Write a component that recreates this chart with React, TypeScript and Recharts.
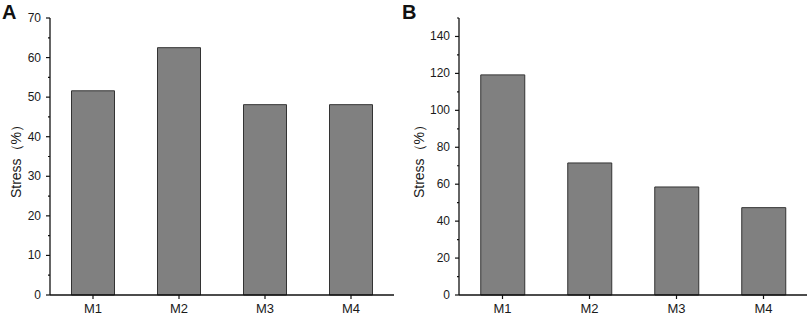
import React from 'react';
import { BarChart, Bar, XAxis, YAxis } from 'recharts';

const categories = ['M1', 'M2', 'M3', 'M4'];
const stressA = [51.6, 62.5, 48.1, 48.1];
const stressB = [119.2, 71.5, 58.5, 47.3];
const ticksA = [0, 5, 10, 15, 20, 25, 30, 35, 40, 45, 50, 55, 60, 65, 70];
const ticksB = [0, 10, 20, 30, 40, 50, 60, 70, 80, 90, 100, 110, 120, 130, 140, 150];
const majorStepA = 10;
const majorStepB = 20;
const panelLabels = ['A', 'B'];
const yLabel = 'Stress（%）';

const dataA = categories.map((c, i) => ({ name: c, value: stressA[i] }));
const dataB = categories.map((c, i) => ({ name: c, value: stressB[i] }));

const FONT = '"Liberation Sans", Arial, sans-serif';
const AXIS = '#111';
const TEXT = '#1a1a1a';

function makeYTick(step: number) {
  return (props: any) => {
    const { x, y, payload } = props;
    const major = payload.value % step === 0;
    const len = major ? 4 : 2;
    return (
      <g>
        <line x1={x - len} x2={x} y1={y} y2={y} stroke={AXIS} strokeWidth={1.2} />
        {major && (
          <text
            x={x - 9}
            y={y}
            textAnchor="end"
            dominantBaseline="central"
            fontSize={12}
            fontFamily={FONT}
            fill={TEXT}
          >
            {payload.value}
          </text>
        )}
      </g>
    );
  };
}

function Panel(props: {
  data: any[];
  width: number;
  yWidth: number;
  right: number;
  max: number;
  ticks: number[];
  step: number;
}) {
  const { data, width, yWidth, right, max, ticks, step } = props;
  return (
    <BarChart
      width={width}
      height={316}
      data={data}
      margin={{ top: 18, right, bottom: 0, left: 0 }}
      barCategoryGap="25%"
    >
      <XAxis
        dataKey="name"
        height={21}
        tickSize={4}
        tickMargin={5}
        axisLine={{ stroke: AXIS, strokeWidth: 1.3 }}
        tickLine={{ stroke: AXIS, strokeWidth: 1.2 }}
        tick={{ fontSize: 13, fill: TEXT, fontFamily: FONT }}
      />
      <YAxis
        width={yWidth}
        domain={[0, max]}
        ticks={ticks}
        interval={0}
        tickSize={0}
        tickMargin={0}
        tickLine={false}
        axisLine={{ stroke: AXIS, strokeWidth: 1.3 }}
        tick={makeYTick(step)}
      />
      <Bar
        dataKey="value"
        fill="#808080"
        stroke="#333"
        strokeWidth={1}
        isAnimationActive={false}
      />
    </BarChart>
  );
}

export default function App() {
  return (
    <div
      style={{
        position: 'absolute',
        left: 0,
        top: 0,
        width: 809,
        height: 316,
        background: '#fff',
        fontFamily: FONT,
      }}
    >
      <div style={{ position: 'absolute', left: 0, top: 0 }}>
        <Panel data={dataA} width={400} yWidth={50} right={6} max={70} ticks={ticksA} step={majorStepA} />
      </div>
      <div style={{ position: 'absolute', left: 400, top: 0 }}>
        <Panel data={dataB} width={409} yWidth={59} right={2} max={150} ticks={ticksB} step={majorStepB} />
      </div>
      <svg
        width={809}
        height={316}
        style={{ position: 'absolute', left: 0, top: 0, pointerEvents: 'none' }}
      >
        <text x={2} y={18.5} fontSize={20} fontWeight="bold" fontFamily={FONT} fill="#111">
          {panelLabels[0]}
        </text>
        <text x={402} y={18.5} fontSize={20} fontWeight="bold" fontFamily={FONT} fill="#111">
          {panelLabels[1]}
        </text>
        <text
          transform="translate(16,158) rotate(-90)"
          textAnchor="middle"
          dominantBaseline="central"
          fontSize={14}
          fontFamily={FONT}
          fill={TEXT}
        >
          {yLabel}
        </text>
        <text
          transform="translate(419,158) rotate(-90)"
          textAnchor="middle"
          dominantBaseline="central"
          fontSize={14}
          fontFamily={FONT}
          fill={TEXT}
        >
          {yLabel}
        </text>
      </svg>
    </div>
  );
}
